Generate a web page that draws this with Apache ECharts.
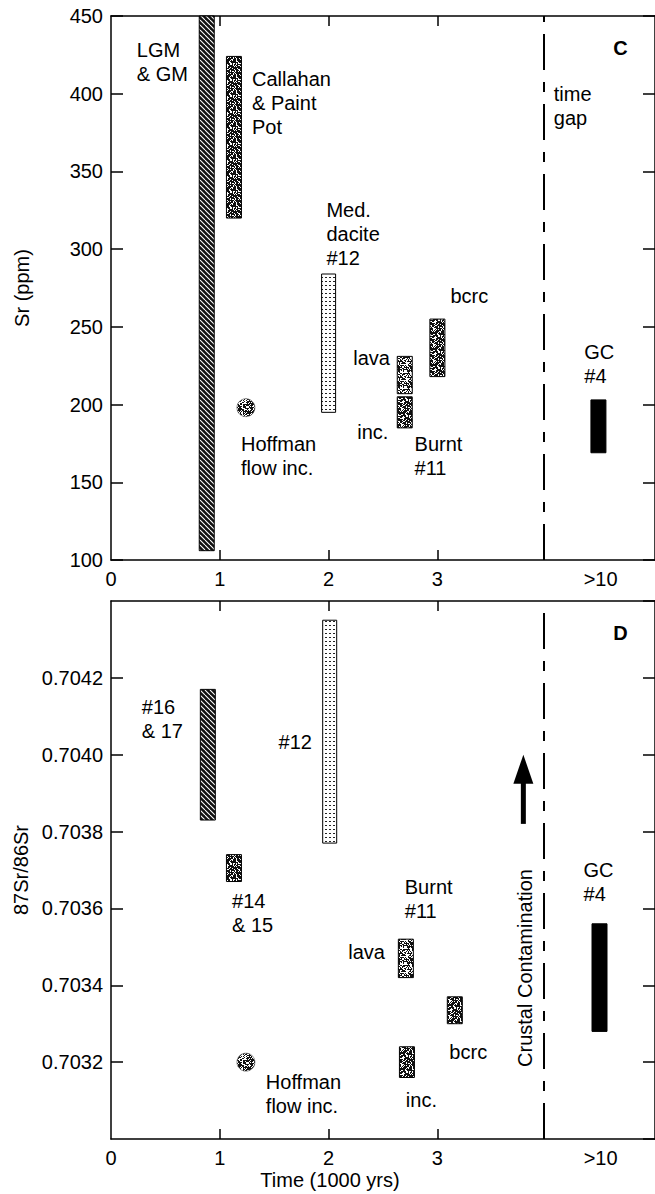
<!DOCTYPE html>
<html>
<head>
<meta charset="utf-8">
<script src="https://cdn.jsdelivr.net/npm/echarts@6/dist/echarts.min.js"></script>
<style>
  html, body { margin: 0; padding: 0; background: #fff; }
  #chart { width: 655px; height: 1194px; }
</style>
</head>
<body>
<div id="chart"></div>
<script>
// ---- panel C : Sr (ppm) ----
var srBarTime = [0.88, 1.13, 2.0, 2.70, 2.70, 3.0, 4.48];
var srBarLow = [106, 320, 195, 207, 185, 218, 169];
var srBarHigh = [450, 424, 284, 231, 205, 255, 203];
var srBarFill = ["hatch", "speckle", "dots", "light", "speckle", "speckle", "solid"];
var srHoffman = [1.24, 198];
var srLabels = [
  [0.237, 420.7, "LGM\n& GM"],
  [1.296, 394.3, "Callahan\n& Paint\nPot"],
  [1.98, 309.7, "Med.\ndacite\n#12"],
  [4.07, 392.1, "time\ngap"],
  [3.12, 269.9, "bcrc"],
  [2.226, 230.0, "lava"],
  [2.263, 182.4, "inc."],
  [2.79, 166.6, "Burnt\n#11"],
  [4.35, 226.1, "GC\n#4"],
  [1.195, 166.6, "Hoffman\nflow inc."]
];
var srLetter = [4.617, 429.4, "C"];

// ---- panel D : 87Sr/86Sr ----
var isoBarTime = [0.89, 2.01, 1.13, 2.71, 3.16, 2.72, 4.49];
var isoBarLow = [0.70383, 0.70377, 0.70367, 0.70342, 0.70330, 0.70316, 0.70328];
var isoBarHigh = [0.70417, 0.70435, 0.70374, 0.70352, 0.70337, 0.70324, 0.70356];
var isoBarFill = ["hatch", "dots", "speckle", "light", "speckle", "speckle", "solid"];
var isoHoffman = [1.24, 0.70320];
var isoArrow = [3.79, 0.70382, 0.70400];
var isoLabels = [
  [0.283, 0.704093, "#16\n& 17"],
  [1.54, 0.704033, "#12"],
  [1.113, 0.703587, "#14\n& 15"],
  [2.70, 0.703625, "Burnt\n#11"],
  [4.343, 0.70367, "GC\n#4"],
  [2.18, 0.703487, "lava"],
  [3.11, 0.703227, "bcrc"],
  [2.71, 0.703102, "inc."],
  [1.423, 0.703116, "Hoffman\nflow inc."]
];
var isoVertical = [3.805, 0.703445, "Crustal Contamination"];
var isoLetter = [4.617, 0.704317, "D"];

// ---- shared axis bits ----
var timeLabelValues = [0, 1, 2, 3, 4.5];
var timeLabelText = ["0", "1", "2", "3", ">10"];
var timeTickValues = [1, 2, 3];
var timeGapLine = 3.98;

var FONT = "'Liberation Sans', Arial, Helvetica, sans-serif";

// fill textures
function tile(w, h, draw) {
  var c = document.createElement("canvas");
  c.width = w; c.height = h;
  draw(c.getContext("2d"), w, h);
  return { image: c, repeat: "repeat", imageWidth: w, imageHeight: h };
}
function noise(ctx, w, h, dark, seed) {
  var s = seed;
  ctx.fillStyle = "#fff";
  ctx.fillRect(0, 0, w, h);
  ctx.fillStyle = "#111";
  for (var y = 0; y < h; y++) {
    for (var x = 0; x < w; x++) {
      s = (s * 1103515245 + 12345) % 2147483648;
      if (s / 2147483648 < dark) ctx.fillRect(x, y, 1, 1);
    }
  }
}
var fills = {
  hatch: tile(5, 5, function (g, w, h) {
    g.fillStyle = "#111"; g.fillRect(0, 0, w, h);
    g.strokeStyle = "#fff"; g.lineWidth = 1.1;
    for (var k = -w; k <= w; k += w) {
      g.beginPath(); g.moveTo(k, 0); g.lineTo(k + w, h); g.stroke();
    }
  }),
  speckle: tile(16, 16, function (g, w, h) { noise(g, w, h, 0.68, 7); }),
  light: tile(16, 16, function (g, w, h) { noise(g, w, h, 0.5, 31); }),
  dots: tile(4, 4, function (g, w, h) {
    g.fillStyle = "#fff"; g.fillRect(0, 0, w, h);
    g.fillStyle = "#222"; g.fillRect(1, 1, 2, 1);
  }),
  solid: "#000"
};
var dotFill = tile(16, 16, function (g, w, h) { noise(g, w, h, 0.6, 99); });

function barRenderer(fillNames) {
  return function (params, api) {
    var t = api.value(0);
    var top = api.coord([t, api.value(2)]);
    var bot = api.coord([t, api.value(1)]);
    var w = fillNames[params.dataIndex] === "dots" ? 14 : 15;
    return {
      type: "rect",
      shape: { x: top[0] - w / 2, y: top[1], width: w, height: bot[1] - top[1] },
      style: { fill: fills[fillNames[params.dataIndex]], stroke: "#000", lineWidth: 1 }
    };
  };
}

function dotRenderer(params, api) {
  var p = api.coord([api.value(0), api.value(1)]);
  return {
    type: "circle",
    shape: { cx: p[0], cy: p[1], r: 9 },
    style: { fill: dotFill, stroke: "#444", lineWidth: 0.6 }
  };
}

function textRenderer(list, opts) {
  opts = opts || {};
  return function (params, api) {
    var d = list[params.dataIndex];
    var p = api.coord([d[0], d[1]]);
    return {
      type: "text",
      x: p[0], y: p[1],
      rotation: opts.rotate ? Math.PI / 2 : 0,
      style: {
        text: d[2],
        fill: "#000",
        fontSize: 20,
        fontFamily: FONT,
        fontWeight: opts.bold ? "bold" : "normal",
        align: opts.rotate ? "center" : "left",
        verticalAlign: "middle",
        lineHeight: 24
      }
    };
  };
}

function arrowRenderer(params, api) {
  var tail = api.coord([api.value(0), api.value(1)]);
  var tip = api.coord([api.value(0), api.value(2)]);
  var headH = 29, headW = 20;
  return {
    type: "group",
    children: [
      { type: "line", shape: { x1: tail[0], y1: tail[1], x2: tip[0], y2: tip[1] + headH - 2 },
        style: { stroke: "#000", lineWidth: 5 } },
      { type: "polygon",
        shape: { points: [[tip[0], tip[1]], [tip[0] - headW / 2, tip[1] + headH], [tip[0] + headW / 2, tip[1] + headH]] },
        style: { fill: "#000" } }
    ]
  };
}

var axisLine = { show: true, onZero: false, lineStyle: { color: "#000", width: 1.5 } };
var labelFont = { fontSize: 20, color: "#000", fontFamily: FONT };

function timeAxes(gi) {
  return [
    {
      gridIndex: gi, type: "value", min: 0, max: 5, position: "bottom",
      axisLine: axisLine,
      axisTick: { show: true, inside: true, length: 10, customValues: timeTickValues, lineStyle: { color: "#000", width: 1.5 } },
      axisLabel: Object.assign({ margin: 9, customValues: timeLabelValues,
        formatter: function (v) { return timeLabelText[timeLabelValues.indexOf(v)]; } }, labelFont),
      splitLine: { show: false }
    },
    {
      gridIndex: gi, type: "value", min: 0, max: 5, position: "top",
      axisLine: axisLine,
      axisTick: { show: true, inside: true, length: 10, customValues: timeTickValues, lineStyle: { color: "#000", width: 1.5 } },
      axisLabel: { show: false },
      splitLine: { show: false }
    }
  ];
}

function valueAxes(gi, min, max, interval, name, fmt, hideEnds) {
  return [
    {
      gridIndex: gi, type: "value", min: min, max: max, interval: interval, position: "left",
      name: name, nameLocation: "middle", nameGap: 79, nameRotate: 90,
      nameTextStyle: { fontSize: 20, color: "#000", fontFamily: FONT },
      axisLine: axisLine,
      axisTick: { show: true, inside: true, length: 12, lineStyle: { color: "#000", width: 1.5 } },
      axisLabel: Object.assign({ margin: 8, formatter: fmt, showMinLabel: !hideEnds, showMaxLabel: !hideEnds }, labelFont),
      splitLine: { show: false }
    },
    {
      gridIndex: gi, type: "value", min: min, max: max, interval: interval, position: "right",
      axisLine: axisLine,
      axisTick: { show: true, inside: true, length: 12, lineStyle: { color: "#000", width: 1.5 } },
      axisLabel: { show: false },
      splitLine: { show: false }
    }
  ];
}

var gapLine = {
  silent: true, symbol: ["none", "none"], label: { show: false },
  lineStyle: { color: "#000", width: 2, type: [36, 12, 10, 12] },
  data: [{ xAxis: timeGapLine }]
};

function panelSeries(p) {
  var xi = p.grid * 2, yi = p.grid * 2;
  return [
    {
      type: "custom", xAxisIndex: xi, yAxisIndex: yi,
      renderItem: barRenderer(p.fill),
      data: p.time.map(function (t, i) { return [t, p.low[i], p.high[i]]; })
    },
    {
      type: "scatter", xAxisIndex: xi, yAxisIndex: yi,
      symbolSize: 0, silent: true,
      data: [p.hoffman],
      markLine: gapLine
    },
    {
      type: "custom", xAxisIndex: xi, yAxisIndex: yi,
      renderItem: dotRenderer,
      data: [p.hoffman]
    },
    {
      type: "custom", xAxisIndex: xi, yAxisIndex: yi,
      renderItem: textRenderer(p.labels),
      data: p.labels.map(function (d) { return [d[0], d[1]]; })
    },
    {
      type: "custom", xAxisIndex: xi, yAxisIndex: yi,
      renderItem: textRenderer([p.letter], { bold: true }),
      data: [[p.letter[0], p.letter[1]]]
    }
  ];
}

var series = panelSeries({ grid: 0, time: srBarTime, low: srBarLow, high: srBarHigh, fill: srBarFill,
  hoffman: srHoffman, labels: srLabels, letter: srLetter })
  .concat(panelSeries({ grid: 1, time: isoBarTime, low: isoBarLow, high: isoBarHigh, fill: isoBarFill,
  hoffman: isoHoffman, labels: isoLabels, letter: isoLetter }));

series.push({
  type: "custom", xAxisIndex: 2, yAxisIndex: 2,
  renderItem: arrowRenderer,
  data: [isoArrow]
});
series.push({
  type: "custom", xAxisIndex: 2, yAxisIndex: 2,
  renderItem: textRenderer([isoVertical], { rotate: true }),
  data: [[isoVertical[0], isoVertical[1]]]
});

var chart = echarts.init(document.getElementById("chart"), null, { renderer: "svg" });
chart.setOption({
  animation: false,
  backgroundColor: "#fff",
  textStyle: { fontFamily: FONT },
  grid: [
    { left: 111, top: 16, width: 548, height: 544 },
    { left: 111, top: 601, width: 548, height: 538 }
  ],
  xAxis: timeAxes(0).concat(timeAxes(1)),
  yAxis: valueAxes(0, 100, 450, 50, "Sr (ppm)", function (v) { return String(v); }, false)
    .concat(valueAxes(1, 0.7030, 0.7044, 0.0002, "87Sr/86Sr", function (v) { return v.toFixed(4); }, true)),
  graphic: [
    { type: "text", x: 330, y: 1180, style: { text: "Time (1000 yrs)", fontSize: 20, fontFamily: FONT, fill: "#000", align: "center", verticalAlign: "middle" } }
  ],
  series: series
});
</script>
</body>
</html>
